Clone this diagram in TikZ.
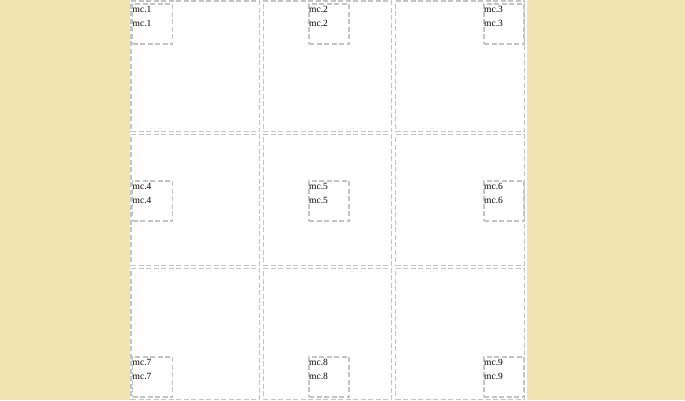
\documentclass[tikz,border=0pt]{standalone}
\usepackage{fontspec}
\setmainfont{Liberation Serif}
\usepackage{xcolor}
\definecolor{areia}{RGB}{240, 228, 176}
\definecolor{tracejado}{RGB}{196, 196, 196}

\begin{document}
\begin{tikzpicture}[
    x=1pt, y=-1pt,
    celula/.style={
        draw=tracejado,
        line width=1.1pt,
        dash pattern=on 5pt off 2.5pt,
        minimum width=128.5pt,
        minimum height=130.5pt,
        inner sep=0pt
    },
    caixinha/.style={
        celula,
        minimum width=40pt,
        minimum height=40pt
    },
    rotulo/.style={
        anchor=north west,
        inner sep=0pt,
        align=left,
        font=\fontsize{9.5}{13.5}\selectfont
    }
]

% fundo e area branca
\useasboundingbox (0,0) rectangle (685,400);
\fill[areia] (0,0) rectangle (685,400);
\fill[white] (130,0) rectangle (527,400);

% celulas da grade
\node[celula] (c1) at (195.25,66.25) {};
\node[celula] (c2) at (327.55,66.25) {};
\node[celula] (c3) at (459.85,66.25) {};
\node[celula] (c4) at (195.25,200.15) {};
\node[celula] (c5) at (327.55,200.15) {};
\node[celula] (c6) at (459.85,200.15) {};
\node[celula] (c7) at (195.25,334.05) {};
\node[celula] (c8) at (327.55,334.05) {};
\node[celula] (c9) at (459.85,334.05) {};

% caixinhas
\node[caixinha] (mc1) at (152.5,24) {};
\node[caixinha] (mc2) at (329,24) {};
\node[caixinha] (mc3) at (504,24) {};
\node[caixinha] (mc4) at (152.5,201) {};
\node[caixinha] (mc5) at (329,201) {};
\node[caixinha] (mc6) at (504,201) {};
\node[caixinha] (mc7) at (152.5,377) {};
\node[caixinha] (mc8) at (329,377) {};
\node[caixinha] (mc9) at (504,377) {};

% textos
\node[rotulo] (t1) at ([xshift=0.5pt,yshift=-3pt]mc1.north west) {mc.1\\mc.1};
\node[rotulo] (t2) at ([xshift=0.5pt,yshift=-3pt]mc2.north west) {mc.2\\mc.2};
\node[rotulo] (t3) at ([xshift=0.5pt,yshift=-3pt]mc3.north west) {mc.3\\mc.3};
\node[rotulo] (t4) at ([xshift=0.5pt,yshift=-3pt]mc4.north west) {mc.4\\mc.4};
\node[rotulo] (t5) at ([xshift=0.5pt,yshift=-3pt]mc5.north west) {mc.5\\mc.5};
\node[rotulo] (t6) at ([xshift=0.5pt,yshift=-3pt]mc6.north west) {mc.6\\mc.6};
\node[rotulo] (t7) at ([xshift=0.5pt,yshift=-3pt]mc7.north west) {mc.7\\mc.7};
\node[rotulo] (t8) at ([xshift=0.5pt,yshift=-3pt]mc8.north west) {mc.8\\mc.8};
\node[rotulo] (t9) at ([xshift=0.5pt,yshift=-3pt]mc9.north west) {mc.9\\mc.9};

\end{tikzpicture}
\end{document}
